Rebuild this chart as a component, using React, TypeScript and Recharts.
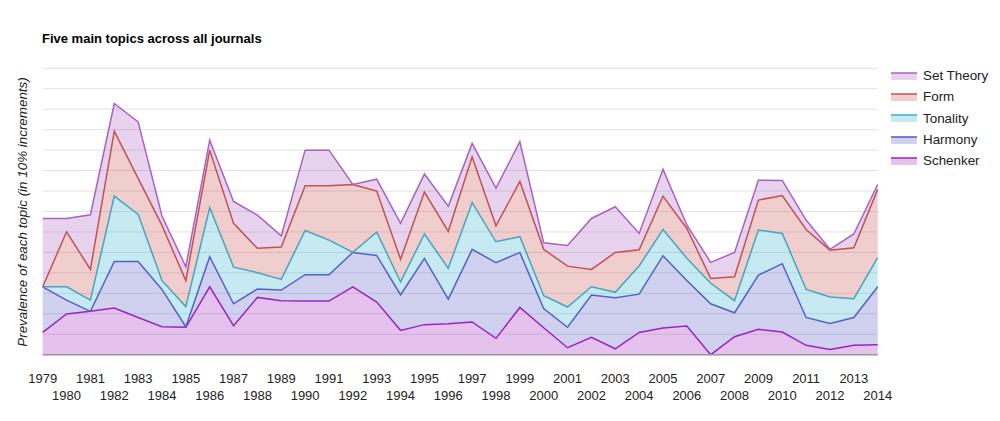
import { Area, AreaChart, CartesianGrid, XAxis, YAxis } from "recharts";

const years = [
  "1979", "1980", "1981", "1982", "1983", "1984", "1985", "1986", "1987",
  "1988", "1989", "1990", "1991", "1992", "1993", "1994", "1995", "1996",
  "1997", "1998", "1999", "2000", "2001", "2002", "2003", "2004", "2005",
  "2006", "2007", "2008", "2009", "2010", "2011", "2012", "2013", "2014",
];

// values in gridline units (one band per gridline)
const schenker = [
  1.09, 1.99, 2.12, 2.28, 1.82, 1.37, 1.34, 3.32, 1.42, 2.8, 2.64, 2.62,
  2.62, 3.32, 2.57, 1.19, 1.47, 1.51, 1.6, 0.8, 2.31, 1.32, 0.34, 0.85,
  0.29, 1.09, 1.3, 1.4, 0, 0.88, 1.24, 1.11, 0.46, 0.26, 0.46, 0.49,
];
const harmony = [
  2.23, 0.68, 0, 2.28, 2.74, 1.82, 0.03, 1.47, 1.07, 0.41, 0.52, 1.29,
  1.29, 1.68, 2.28, 1.74, 3.24, 1.21, 3.55, 3.7, 2.69, 0.94, 1.0, 2.07,
  2.5, 1.87, 3.54, 2.23, 2.49, 1.17, 2.65, 3.34, 1.36, 1.27, 1.36, 2.83,
];
const tonality = [
  0, 0.65, 0.55, 3.19, 2.3, 0.43, 0.98, 2.39, 1.79, 0.8, 0.52, 2.16,
  1.69, 0, 1.14, 0.62, 1.19, 1.5, 2.28, 1.02, 0.77, 0.62, 0.99, 0.4,
  0.26, 1.37, 1.28, 1.08, 1.0, 0.59, 2.2, 1.48, 1.37, 1.29, 0.92, 1.42,
];
const form = [
  0, 2.69, 1.5, 3.18, 1.76, 2.7, 1.27, 2.82, 2.14, 1.19, 1.58, 2.19,
  2.66, 3.32, 2.01, 1.12, 2.05, 1.81, 2.24, 0.78, 2.7, 2.27, 2.0, 0.85,
  1.95, 0.8, 1.63, 1.46, 0.24, 1.17, 1.47, 1.85, 2.93, 2.29, 2.49, 3.34,
];
const setTheory = [
  3.34, 0.65, 2.67, 1.35, 2.76, 0.46, 0.68, 0.49, 1.07, 1.62, 0.55, 1.74,
  1.74, 0, 0.58, 1.75, 0.88, 1.23, 0.66, 1.84, 1.94, 0.32, 1.01, 2.49,
  2.23, 0.8, 1.31, 0.17, 0.78, 1.19, 0.97, 0.74, 0.46, 0.04, 0.67, 0.24,
];

const gridTicks = [0, 1, 2, 3, 4, 5, 6, 7, 8, 9, 10, 11, 12, 13, 14];

// bottom of the stack first
const series = [
  { key: "schenker", name: "Schenker", color: "#a31fc0", values: schenker },
  { key: "harmony", name: "Harmony", color: "#5656c6", values: harmony },
  { key: "tonality", name: "Tonality", color: "#35b3d0", values: tonality },
  { key: "form", name: "Form", color: "#c4504a", values: form },
  { key: "setTheory", name: "Set Theory", color: "#a862c0", values: setTheory },
];

const data = years.map((year, i) => {
  const row: Record<string, string | number> = { year };
  series.forEach((s) => {
    row[s.key] = s.values[i];
  });
  return row;
});

const FONT = "'Liberation Sans', Arial, sans-serif";

function YearTick(props: any) {
  const { x, y, payload } = props;
  const idx = years.indexOf(String(payload.value));
  const row = idx % 2;
  return (
    <text
      x={x}
      y={y + 20 + row * 17}
      textAnchor="middle"
      fontSize={13}
      fontFamily={FONT}
      fill="#222"
    >
      {payload.value}
    </text>
  );
}

export default function App() {
  const legendItems = [...series].reverse();
  return (
    <div
      style={{
        position: "absolute",
        left: 0,
        top: 0,
        width: 1000,
        height: 421,
        background: "#fff",
        fontFamily: FONT,
      }}
    >
      <AreaChart
        width={1000}
        height={421}
        data={data}
        margin={{ top: 68.3, right: 122.3, left: 42.7, bottom: 26.3 }}
      >
        <CartesianGrid vertical={false} stroke="#e2e2e2" />
        <XAxis
          dataKey="year"
          interval={0}
          tickLine={false}
          axisLine={{ stroke: "#999", strokeWidth: 1.5 }}
          height={40}
          tick={YearTick}
        />
        <YAxis hide type="number" domain={[0, 14]} ticks={gridTicks} interval={0} />
        {series.map((s) => (
          <Area
            key={s.key}
            type="linear"
            dataKey={s.key}
            name={s.name}
            stackId="topics"
            stroke={s.color}
            strokeWidth={1.5}
            fill={s.color}
            fillOpacity={0.28}
            dot={false}
            activeDot={false}
            isAnimationActive={false}
          />
        ))}
      </AreaChart>

      <div
        style={{
          position: "absolute",
          left: 42,
          top: 31,
          fontSize: 13,
          fontWeight: "bold",
          color: "#000",
        }}
      >
        Five main topics across all journals
      </div>

      <div
        style={{
          position: "absolute",
          left: 22,
          top: 212,
          transform: "translate(-50%, -50%) rotate(-90deg)",
          whiteSpace: "nowrap",
          fontSize: 13.4,
          fontStyle: "italic",
          color: "#222",
        }}
      >
        Prevalence of each topic (in 10% increments)
      </div>

      <div style={{ position: "absolute", left: 891, top: 65 }}>
        {legendItems.map((s) => (
          <div
            key={s.key}
            style={{
              display: "flex",
              alignItems: "center",
              height: 21.3,
              fontSize: 13.4,
              color: "#222",
            }}
          >
            <svg width={27} height={10} style={{ marginRight: 5 }}>
              <rect x={0} y={2} width={26} height={7} fill={s.color} fillOpacity={0.28} />
              <line x1={0} x2={26} y1={2} y2={2} stroke={s.color} strokeWidth={1.5} />
            </svg>
            <span>{s.name}</span>
          </div>
        ))}
      </div>
    </div>
  );
}
